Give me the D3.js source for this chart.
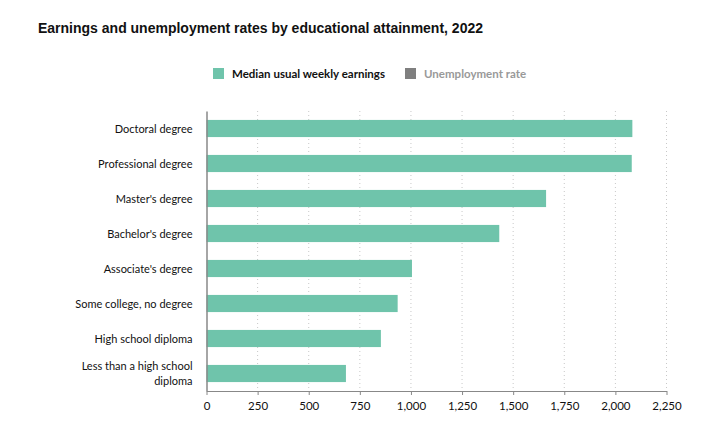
<!DOCTYPE html>
<html><head><meta charset="utf-8">
<script src="https://cdn.jsdelivr.net/npm/d3@7"></script>
<style>
body{margin:0;background:#fff;}
text{font-family:Lato,"Open Sans",sans-serif;}
</style></head>
<body><svg id="c" width="710" height="435"></svg>
<script>
const categories = ["Doctoral degree","Professional degree","Master's degree","Bachelor's degree","Associate's degree","Some college, no degree","High school diploma","Less than a high school diploma"];
const earnings = [2083,2080,1661,1432,1005,935,853,682];
const xTicks = [0,250,500,750,1000,1250,1500,1750,2000,2250];
const legendLabels = ["Median usual weekly earnings","Unemployment rate"];

const svg = d3.select("#c");
const m = {left:206.5, right:666.5, top:111, bottom:391};
const x = d3.scaleLinear().domain([0,2250]).range([m.left,m.right]);
const y = d3.scaleBand().domain(categories).range([m.top,m.bottom]).paddingInner(0.51).paddingOuter(0.255);

svg.append("text").attr("x",38).attr("y",33).text("Earnings and unemployment rates by educational attainment, 2022")
  .style("font-family","Arial, 'Liberation Sans', sans-serif").style("font-weight","bold").style("font-size","14px").attr("fill","#111");

// legend
const lg = svg.append("g");
lg.append("rect").attr("x",213).attr("y",68).attr("width",11).attr("height",11).attr("fill","#6fc4ab");
lg.append("text").attr("x",232).attr("y",78).text(legendLabels[0]).style("font-size","11.5px").style("font-weight","bold").attr("fill","#111");
lg.append("rect").attr("x",405).attr("y",68).attr("width",11).attr("height",11).attr("fill","#7f7f7f");
lg.append("text").attr("x",424).attr("y",78).text(legendLabels[1]).style("font-size","11.5px").style("font-weight","bold").attr("fill","#999");

// grid
svg.append("g").selectAll("line").data(xTicks.slice(1)).join("line")
  .attr("x1",d=>x(d)).attr("x2",d=>x(d)).attr("y1",m.top).attr("y2",m.bottom)
  .attr("stroke","#c8c8c8").attr("stroke-dasharray","1,3");

// bars
svg.append("g").selectAll("rect").data(categories).join("rect")
  .attr("x",x(0)).attr("y",d=>y(d)).attr("height",y.bandwidth())
  .attr("width",(d,i)=>x(earnings[i])-x(0)).attr("fill","#6fc4ab");

// x axis
const xa = svg.append("g").attr("transform",`translate(0,${m.bottom})`)
  .call(d3.axisBottom(x).tickValues(xTicks).tickFormat(d3.format(",")).tickSize(4).tickSizeOuter(0));
xa.select(".domain").attr("stroke","#888");
xa.selectAll(".tick line").attr("stroke","#888");
xa.selectAll(".tick text").style("font-size","11.5px").attr("fill","#111").attr("dy","1.0em");

// y axis
const ya = svg.append("g").attr("transform",`translate(${m.left},0)`)
  .call(d3.axisLeft(y).tickSize(0).tickSizeOuter(0).tickPadding(14));
ya.select(".domain").attr("stroke","#888").attr("stroke-width",1.5);
ya.selectAll(".tick text").style("font-size","11px").attr("fill","#111").attr("dy","0.4em")
  .each(function(d){
    if(d.length>24){
      const t=d3.select(this); t.text(null);
      const parts=["Less than a high school","diploma"];
      t.append("tspan").attr("x",-14).attr("dy","-0.3em").text(parts[0]);
      t.append("tspan").attr("x",-14).attr("dy","1.3em").text(parts[1]);
    }
  });
</script></body></html>
